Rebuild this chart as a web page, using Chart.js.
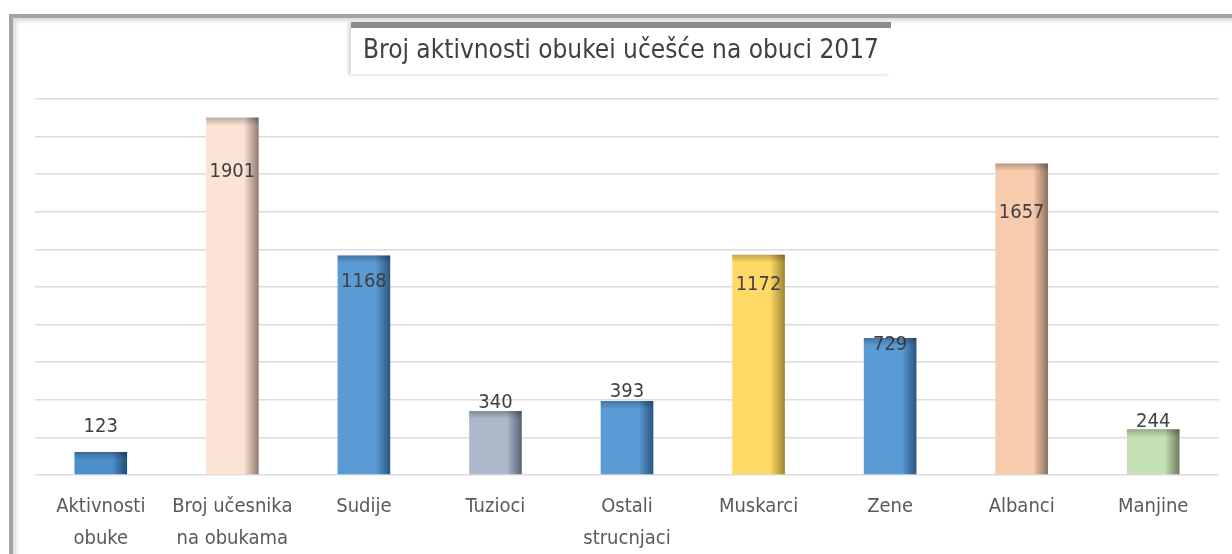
<!DOCTYPE html>
<html>
<head>
<meta charset="utf-8">
<script src="https://cdn.jsdelivr.net/npm/chart.js@4"></script>
<style>
  html,body{margin:0;padding:0;background:#fff;width:1232px;height:554px;overflow:hidden;}
  #frame{position:absolute;left:9px;top:14px;width:1260px;height:600px;border-left:4px solid #a3a3a3;border-top:4px solid #a3a3a3;box-shadow:inset 3px 3px 4px rgba(0,0,0,0.15);}
  #wrap{position:absolute;left:0;top:0;width:1232px;height:554px;}
  #titlebox{position:absolute;left:351px;top:22px;width:540px;height:46px;border-top:6px solid #8c8c8c;box-shadow:-3px 1px 3px rgba(0,0,0,0.15);background:#fff;}
  #title{position:absolute;left:351px;top:31px;width:540px;text-align:center;font-family:"Liberation Sans Narrow","DejaVu Sans Condensed",sans-serif;font-size:26px;color:#404040;line-height:36px;}
</style>
</head>
<body>
<div id="frame"></div>
<div id="titlebox"></div>
<div id="wrap"><canvas id="c" width="1232" height="554"></canvas></div>
<div id="title">Broj aktivnosti obukei učešće na obuci 2017</div>
<script>
const categories = [["Aktivnosti","obuke"],["Broj učesnika","na obukama"],"Sudije","Tuzioci",["Ostali","strucnjaci"],"Muskarci","Zene","Albanci","Manjine"];
const values = [123, 1901, 1168, 340, 393, 1172, 729, 1657, 244];
const yMax = 2000;
const yStep = 200;

const baseColors = ["#4e8ecb","#fbe3d6","#5b9bd5","#adb9ca","#5b9bd5","#ffd966","#5b9bd5","#f8cbad","#c5e0b4"];
const darkColors = ["#1f4e79","#8c7b70","#2a5680","#566373","#2a5680","#9c8430","#2a5680","#8e6f5d","#6a7d5e"];
const labelOffsets = [-25, 54, 26, -8, -9, 30, 7, 49, -7];

const labelPlugin = {
  id: 'vlabels',
  afterDatasetsDraw(chart){
    const ctx = chart.ctx;
    const meta = chart.getDatasetMeta(0);
    ctx.save();
    ctx.font = '20px "Liberation Sans Narrow","DejaVu Sans Condensed",sans-serif';
    ctx.fillStyle = '#404040';
    ctx.textAlign = 'center';
    ctx.textBaseline = 'middle';
    meta.data.forEach((bar,i)=>{
      ctx.fillText(String(values[i]), bar.x, bar.y + labelOffsets[i]);
    });
    ctx.restore();
  }
};

const shadePlugin = {
  id: 'topshade',
  afterDatasetsDraw(chart){
    const ctx = chart.ctx;
    const meta = chart.getDatasetMeta(0);
    ctx.save();
    meta.data.forEach((bar,i)=>{
      const w = bar.width, x0 = bar.x - w/2;
      const g = ctx.createLinearGradient(0, bar.y, 0, bar.y+8);
      g.addColorStop(0,'rgba(0,0,0,0.25)');
      g.addColorStop(1,'rgba(0,0,0,0)');
      ctx.fillStyle = g;
      ctx.fillRect(x0, bar.y, w, 8);
    });
    ctx.restore();
  }
};

function barGradient(context){
  const chart = context.chart;
  const area = chart.chartArea;
  if(!area) return baseColors[context.dataIndex];
  const i = context.dataIndex;
  const x = chart.scales.x.getPixelForValue(i);
  const w = (area.right-area.left)/categories.length*0.4;
  const g = chart.ctx.createLinearGradient(x-w/2,0,x+w/2,0);
  g.addColorStop(0, baseColors[i]);
  g.addColorStop(0.72, baseColors[i]);
  g.addColorStop(1, darkColors[i]);
  return g;
}

new Chart(document.getElementById('c'), {
  type: 'bar',
  data: {
    labels: categories,
    datasets: [{
      data: values,
      backgroundColor: barGradient,
      borderWidth: 0,
      categoryPercentage: 1,
      barPercentage: 0.4
    }]
  },
  options: {
    responsive: false,
    animation: false,
    layout: { padding: { left: 35, right: 13, top: 99, bottom: 0 } },
    plugins: { legend: {display:false}, tooltip:{enabled:false}, title:{display:false} },
    scales: {
      x: {
        grid: { display: false },
        border: { display: false },
        ticks: {
          color: '#595959',
          font: { family: '"Liberation Sans Narrow","DejaVu Sans Condensed",sans-serif', size: 20, lineHeight: 1.6 },
          padding: 8,
          maxRotation: 0,
          autoSkip: false
        },
        afterFit(scale){ scale.height = 79; }
      },
      y: {
        min: 0, max: yMax,
        ticks: { display: false, stepSize: yStep },
        grid: { color: '#dcdcdc', lineWidth: 1.5, drawTicks: false },
        border: { display: false },
        afterFit(scale){ scale.width = 0; }
      }
    }
  },
  plugins: [labelPlugin, shadePlugin]
});
</script>
</body>
</html>
